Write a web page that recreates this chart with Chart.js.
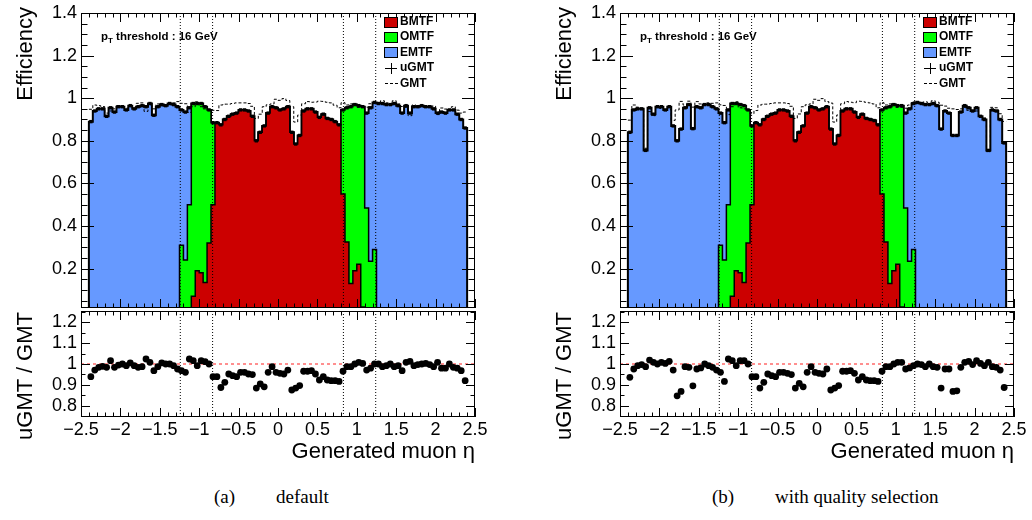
<!DOCTYPE html>
<html lang="en">
<head>
<meta charset="UTF-8">
<title>uGMT efficiency vs generated muon eta</title>
<script src="https://cdn.jsdelivr.net/npm/chart.js"></script>
<style>
  html, body { margin: 0; padding: 0; background: #fff; overflow: hidden; }
  #page { position: relative; width: 1032px; height: 520px; overflow: hidden; font-family: "Liberation Sans", Arial, sans-serif; color: #000; }
  canvas { position: absolute; }
  .ytitle { position: absolute; width: 200px; text-align: right; transform-origin: 0 0; transform: rotate(-90deg); font-size: 22px; line-height: 24px; white-space: nowrap; }
  .xtitle { position: absolute; width: 300px; text-align: right; font-size: 22px; line-height: 24px; white-space: nowrap; }
  .thr { position: absolute; font-weight: bold; font-size: 11.5px; line-height: 14px; white-space: nowrap; }
  .thr sub { font-size: 8px; }
  .leg { position: absolute; font-weight: bold; font-size: 12px; line-height: 15px; white-space: nowrap; }
  .box { position: absolute; width: 12px; height: 9px; border: 1px solid #000; }
  .bar { position: absolute; background: #000; }
  .dash { position: absolute; width: 13px; border-top: 1.5px dashed #000; }
  .cap { position: absolute; font-family: "Liberation Serif", "DejaVu Serif", serif; font-size: 19px; line-height: 22px; white-space: nowrap; }
</style>
</head>
<body>
<div id="page">
  <canvas id="upA" width="516" height="312" style="left:0;top:0"></canvas>
  <canvas id="loA" width="516" height="160" style="left:0;top:300px"></canvas>
  <canvas id="upB" width="516" height="312" style="left:539px;top:0"></canvas>
  <canvas id="loB" width="516" height="160" style="left:539px;top:300px"></canvas>

  <!-- panel (a) text -->
  <div class="ytitle" style="left:13px;top:207px">Efficiency</div>
  <div class="ytitle" style="left:13px;top:512px">uGMT / GMT</div>
  <div class="xtitle" style="left:175px;top:439px">Generated muon η</div>
  <div class="thr" style="left:101px;top:29px">p<sub>T</sub> threshold : 16 GeV</div>
  <div class="box" style="left:384px;top:17px;background:#cc0000"></div><div class="leg" style="left:400px;top:14px">BMTF</div>
  <div class="box" style="left:384px;top:32px;background:#00ff00"></div><div class="leg" style="left:400px;top:29px">OMTF</div>
  <div class="box" style="left:384px;top:47px;background:#6699ff"></div><div class="leg" style="left:400px;top:45px">EMTF</div>
  <div class="bar" style="left:385px;top:68px;width:12px;height:1px"></div><div class="bar" style="left:391px;top:63px;width:1px;height:11px"></div><div class="leg" style="left:400px;top:60px">uGMT</div>
  <div class="dash" style="left:385px;top:83px"></div><div class="leg" style="left:400px;top:76px">GMT</div>
  <div class="cap" style="left:214px;top:486px">(a)</div>
  <div class="cap" style="left:276px;top:486px">default</div>

  <!-- panel (b) text -->
  <div class="ytitle" style="left:552px;top:207px">Efficiency</div>
  <div class="ytitle" style="left:552px;top:512px">uGMT / GMT</div>
  <div class="xtitle" style="left:714px;top:439px">Generated muon η</div>
  <div class="thr" style="left:640px;top:29px">p<sub>T</sub> threshold : 16 GeV</div>
  <div class="box" style="left:923px;top:17px;background:#cc0000"></div><div class="leg" style="left:939px;top:14px">BMTF</div>
  <div class="box" style="left:923px;top:32px;background:#00ff00"></div><div class="leg" style="left:939px;top:29px">OMTF</div>
  <div class="box" style="left:923px;top:47px;background:#6699ff"></div><div class="leg" style="left:939px;top:45px">EMTF</div>
  <div class="bar" style="left:924px;top:68px;width:12px;height:1px"></div><div class="bar" style="left:930px;top:63px;width:1px;height:11px"></div><div class="leg" style="left:939px;top:60px">uGMT</div>
  <div class="dash" style="left:924px;top:83px"></div><div class="leg" style="left:939px;top:76px">GMT</div>
  <div class="cap" style="left:712px;top:486px">(b)</div>
  <div class="cap" style="left:775px;top:486px">with quality selection</div>
</div>

<script>
// bin edges in generated muon eta (width 0.05)
const etaEdges = [-2.4, -2.35, -2.3, -2.25, -2.2, -2.15, -2.1, -2.05, -2, -1.95, -1.9, -1.85, -1.8, -1.75, -1.7, -1.65,
  -1.6, -1.55, -1.5, -1.45, -1.4, -1.35, -1.3, -1.25, -1.2, -1.15, -1.1, -1.05, -1, -0.95, -0.9, -0.85, -0.8, -0.75,
  -0.7, -0.65, -0.6, -0.55, -0.5, -0.45, -0.4, -0.35, -0.3, -0.25, -0.2, -0.15, -0.1, -0.05, 0, 0.05, 0.1, 0.15, 0.2,
  0.25, 0.3, 0.35, 0.4, 0.45, 0.5, 0.55, 0.6, 0.65, 0.7, 0.75, 0.8, 0.85, 0.9, 0.95, 1, 1.05, 1.1, 1.15, 1.2, 1.25,
  1.3, 1.35, 1.4, 1.45, 1.5, 1.55, 1.6, 1.65, 1.7, 1.75, 1.8, 1.85, 1.9, 1.95, 2, 2.05, 2.1, 2.15, 2.2, 2.25, 2.3,
  2.35, 2.4];

// (a) default
const effA = [0.89, 0.94, 0.95, 0.95, 0.915, 0.955, 0.935, 0.96, 0.96, 0.945,
  0.965, 0.95, 0.96, 0.965, 0.96, 0.975, 0.92, 0.96, 0.97, 0.965,
  0.975, 0.97, 0.96, 0.945, 0.935, 0.955, 0.975, 0.975, 0.975, 0.96,
  0.945, 0.885, 0.885, 0.875, 0.90, 0.915, 0.925, 0.93, 0.945, 0.945,
  0.94, 0.915, 0.80, 0.84, 0.87, 0.93, 0.96, 0.955, 0.945, 0.95,
  0.96, 0.84, 0.785, 0.825, 0.94, 0.95, 0.95, 0.935, 0.91, 0.925,
  0.905, 0.90, 0.89, 0.875, 0.945, 0.955, 0.96, 0.97, 0.965, 0.96,
  0.93, 0.955, 0.98, 0.975, 0.975, 0.97, 0.97, 0.975, 0.965, 0.93,
  0.965, 0.93, 0.96, 0.96, 0.965, 0.96, 0.96, 0.95, 0.93, 0.935,
  0.93, 0.945, 0.945, 0.925, 0.90, 0.86];
const gmtA = [0.948, 0.968, 0.965, 0.961, 0.930, 0.940, 0.950, 0.965, 0.960, 0.953,
  0.960, 0.958, 0.976, 0.978, 0.938, 0.967, 0.950, 0.973, 0.965, 0.965,
  0.975, 0.978, 0.984, 0.976, 0.974, 0.933, 0.960, 0.983, 0.960, 0.950,
  0.945, 0.943, 0.942, 0.968, 0.972, 0.972, 0.975, 0.978, 0.978, 0.978,
  0.975, 0.962, 0.905, 0.925, 0.960, 0.969, 0.973, 0.995, 0.990, 0.998,
  0.989, 0.960, 0.888, 0.921, 0.974, 0.984, 0.981, 0.982, 0.986, 0.985,
  0.981, 0.978, 0.967, 0.955, 0.979, 0.968, 0.973, 0.970, 0.957, 0.957,
  0.958, 0.974, 0.980, 0.975, 0.988, 0.978, 0.970, 0.988, 0.973, 0.961,
  0.957, 0.918, 0.968, 0.963, 0.965, 0.957, 0.963, 0.963, 0.923, 0.954,
  0.949, 0.945, 0.960, 0.944, 0.930, 0.935];
const ratioA = [0.939, 0.971, 0.984, 0.989, 0.984, 1.016, 0.984, 0.995, 1.0, 0.992,
  1.005, 0.992, 0.984, 0.987, 1.024, 1.008, 0.968, 0.987, 1.005, 1.0,
  1.0, 0.992, 0.976, 0.968, 0.96, 1.024, 1.016, 0.992, 1.016, 1.011,
  1.0, 0.939, 0.939, 0.887, 0.912, 0.952, 0.944, 0.939, 0.96, 0.96,
  0.952, 0.949, 0.884, 0.904, 0.89, 0.96, 0.987, 0.96, 0.955, 0.952,
  0.971, 0.875, 0.884, 0.896, 0.965, 0.965, 0.968, 0.952, 0.923, 0.939,
  0.923, 0.92, 0.92, 0.916, 0.965, 0.987, 0.987, 1.0, 1.008, 1.003,
  0.971, 0.98, 1.0, 1.0, 0.987, 0.992, 1.0, 0.987, 0.992, 0.968,
  1.008, 1.013, 0.992, 0.997, 1.0, 1.003, 0.997, 0.987, 1.008, 0.98,
  0.98, 1.0, 0.984, 0.98, 0.968, 0.92];
// lower stacked part in the overlap bins (OMTF under EMTF, BMTF under OMTF), in eta order
const splitA = [0.31, 0.24, 0.50, 0.07, 0.19, 0.18, 0.135, 0.32, 0.50,
  0.55, 0.325, 0.13, 0.19, 0.22, 0.02, 0.485, 0.235, 0.29];

// (b) with quality selection
const effB = [0.84, 0.945, 0.95, 0.95, 0.755, 0.955, 0.925, 0.96, 0.96, 0.945,
  0.96, 0.87, 0.80, 0.855, 0.955, 0.97, 0.857, 0.96, 0.955, 0.97,
  0.97, 0.96, 0.95, 0.93, 0.885, 0.945, 0.975, 0.975, 0.97, 0.965,
  0.945, 0.87, 0.885, 0.875, 0.90, 0.915, 0.925, 0.93, 0.945, 0.945,
  0.94, 0.915, 0.80, 0.84, 0.87, 0.93, 0.96, 0.955, 0.945, 0.95,
  0.96, 0.855, 0.785, 0.825, 0.94, 0.95, 0.95, 0.935, 0.91, 0.925,
  0.905, 0.90, 0.895, 0.875, 0.945, 0.955, 0.96, 0.97, 0.965, 0.965,
  0.93, 0.95, 0.975, 0.98, 0.975, 0.97, 0.97, 0.975, 0.965, 0.855,
  0.94, 0.93, 0.825, 0.825, 0.935, 0.965, 0.955, 0.94, 0.955, 0.915,
  0.90, 0.755, 0.945, 0.94, 0.90, 0.79];
const gmtB = [0.897, 0.968, 0.958, 0.953, 0.765, 0.937, 0.918, 0.960, 0.952, 0.942,
  0.948, 0.896, 0.945, 0.985, 0.968, 0.986, 0.958, 0.984, 0.973, 0.970,
  0.978, 0.976, 0.978, 0.969, 0.966, 0.923, 0.960, 0.983, 0.955, 0.950,
  0.945, 0.927, 0.942, 0.968, 0.972, 0.972, 0.975, 0.978, 0.978, 0.978,
  0.975, 0.962, 0.905, 0.926, 0.960, 0.969, 0.973, 0.995, 0.990, 0.998,
  0.984, 0.977, 0.888, 0.921, 0.974, 0.984, 0.981, 0.979, 0.986, 0.985,
  0.981, 0.978, 0.973, 0.955, 0.979, 0.968, 0.973, 0.970, 0.957, 0.957,
  0.953, 0.968, 0.983, 0.980, 0.978, 0.983, 0.970, 0.988, 0.981, 0.967,
  0.963, 0.953, 0.950, 0.947, 0.950, 0.957, 0.943, 0.943, 0.940, 0.912,
  0.907, 0.749, 0.957, 0.955, 0.927, 0.891];
const ratioB = [0.936, 0.976, 0.992, 0.997, 0.987, 1.019, 1.008, 1.0, 1.008, 1.003,
  1.013, 0.971, 0.847, 0.868, 0.987, 0.984, 0.895, 0.976, 0.981, 1.0,
  0.992, 0.984, 0.971, 0.96, 0.916, 1.024, 1.016, 0.992, 1.016, 1.016,
  1.0, 0.939, 0.939, 0.884, 0.912, 0.952, 0.944, 0.939, 0.96, 0.96,
  0.955, 0.949, 0.884, 0.907, 0.89, 0.96, 0.987, 0.96, 0.955, 0.952,
  0.976, 0.875, 0.884, 0.896, 0.965, 0.965, 0.968, 0.955, 0.923, 0.939,
  0.923, 0.92, 0.92, 0.916, 0.965, 0.987, 0.987, 1.0, 1.008, 1.008,
  0.976, 0.981, 0.992, 1.0, 0.997, 0.987, 1.0, 0.987, 0.984, 0.884,
  0.976, 0.976, 0.868, 0.871, 0.984, 1.008, 1.013, 0.997, 1.016, 1.003,
  0.992, 1.008, 0.987, 0.984, 0.971, 0.887];
const splitB = [0.31, 0.24, 0.50, 0.07, 0.19, 0.18, 0.135, 0.32, 0.50,
  0.55, 0.325, 0.13, 0.19, 0.22, 0.02, 0.485, 0.235, 0.29];

// axes
const etaTicks = [-2.5, -2, -1.5, -1, -0.5, 0, 0.5, 1, 1.5, 2, 2.5];
const etaTickLabels = ['\u22122.5', '\u22122', '\u22121.5', '\u22121', '\u22120.5', '0', '0.5', '1', '1.5', '2', '2.5'];
const effTicks = [0.2, 0.4, 0.6, 0.8, 1, 1.2, 1.4];
const effTickLabels = ['0.2', '0.4', '0.6', '0.8', '1', '1.2', '1.4'];
const ratioTicks = [0.8, 0.9, 1, 1.1, 1.2];
const ratioTickLabels = ['0.8', '0.9', '1', '1.1', '1.2'];
const regionLines = [-1.24, -0.83, 0.83, 1.24];   // detector overlap boundaries
const ratioRef = 1;

const EFF_MIN = 0.015, EFF_MAX = 1.4;
const RATIO_MIN = 0.745, RATIO_MAX = 1.255;
const colBMTF = '#cc0000', colOMTF = '#00ff00', colEMTF = '#6699ff';

Chart.defaults.font.family = '"Liberation Sans", Arial, sans-serif';
Chart.defaults.color = '#000';

const centers = etaEdges.slice(0, -1).map((e, i) => (e + etaEdges[i + 1]) / 2);

// split the total uGMT efficiency into the three track finders
function splitComponents(eff, split) {
  const bmtf = [], omtf = [], emtf = [];
  let k = 0;
  centers.forEach((c, i) => {
    const a = Math.abs(c), v = eff[i];
    if (a > 1.25) { bmtf.push(0); omtf.push(0); emtf.push(v); }
    else if (a > 1.1) { const lo = split[k++]; bmtf.push(0); omtf.push(lo); emtf.push(v - lo); }
    else if (a > 0.8) { const lo = split[k++]; bmtf.push(lo); omtf.push(v - lo); emtf.push(0); }
    else { bmtf.push(v); omtf.push(0); emtf.push(0); }
  });
  return { bmtf, omtf, emtf };
}

// histogram as step points on bin edges
function steps(vals, closed) {
  const n = vals.length, pts = [];
  if (closed) pts.push({ x: etaEdges[0], y: 0 });
  vals.forEach((v, i) => pts.push({ x: etaEdges[i], y: v }));
  pts.push({ x: etaEdges[n], y: vals[n - 1] });
  if (closed) pts.push({ x: etaEdges[n], y: 0 });
  return pts;
}

function vline(b, lo, hi) {
  return { data: [{ x: b, y: lo }, { x: b, y: hi }], stack: 'line' + b, borderColor: '#000',
    borderWidth: 1, borderDash: [1, 2], pointRadius: 0, fill: false };
}

// ROOT-like frame with inward ticks on all sides
const rootFrame = {
  id: 'rootFrame',
  afterDraw(chart, args, o) {
    const { ctx, chartArea: a, scales: { x, y } } = chart;
    ctx.save();
    ctx.strokeStyle = '#000';
    ctx.lineWidth = 1;
    ctx.strokeRect(a.left + 0.5, a.top + 0.5, a.right - a.left - 1, a.bottom - a.top - 1);
    ctx.beginPath();
    for (let k = 0; k <= 50; k++) {
      const px = Math.round(x.getPixelForValue(-2.5 + k * 0.1)) + 0.5;
      const len = k % 5 === 0 ? o.xMajor : o.xMinor;
      ctx.moveTo(px, a.bottom); ctx.lineTo(px, a.bottom - len);
      ctx.moveTo(px, a.top); ctx.lineTo(px, a.top + len);
    }
    for (let k = 0; k < o.yN; k++) {
      const py = Math.round(y.getPixelForValue(o.y0 + k * 0.05)) + 0.5;
      const len = k % o.yMod === o.yRem ? o.yMajor : o.yMinor;
      ctx.moveTo(a.left, py); ctx.lineTo(a.left + len, py);
      ctx.moveTo(a.right, py); ctx.lineTo(a.right - len, py);
    }
    ctx.stroke();
    ctx.restore();
  }
};

function fixWidth(s) { s.width = 81; s.paddingTop = 0; s.paddingBottom = 0; }

function hiddenX() {
  return { type: 'linear', min: -2.5, max: 2.5, ticks: { display: false },
    grid: { display: false, drawTicks: false }, border: { display: false },
    afterFit: s => { s.height = 0; s.paddingLeft = 0; s.paddingRight = 0; } };
}

function upperChart(id, eff, gmt, split) {
  const parts = splitComponents(eff, split);
  new Chart(document.getElementById(id), {
    type: 'line',
    data: {
      datasets: [
        { label: 'uGMT', data: centers.map((c, i) => ({ x: c, y: eff[i] })), stack: 'ugmt', showLine: false,
          pointStyle: 'rect', pointRadius: 2.4, pointBackgroundColor: '#000', pointBorderWidth: 0 },
        { label: 'GMT', data: steps(gmt, false), stack: 'gmt', stepped: true, borderColor: '#000',
          borderWidth: 1, borderDash: [3, 2], pointRadius: 0, fill: false },
        ...regionLines.map(b => vline(b, EFF_MIN, EFF_MAX)),
        { label: 'BMTF', data: steps(parts.bmtf, true), stack: 'tf', stepped: true, fill: 'origin',
          backgroundColor: colBMTF, borderColor: '#000', borderWidth: 1.5, pointRadius: 0 },
        { label: 'OMTF', data: steps(parts.omtf, true), stack: 'tf', stepped: true, fill: '-1',
          backgroundColor: colOMTF, borderColor: '#000', borderWidth: 1.5, pointRadius: 0 },
        { label: 'EMTF', data: steps(parts.emtf, true), stack: 'tf', stepped: true, fill: '-1',
          backgroundColor: colEMTF, borderColor: '#000', borderWidth: 2, pointRadius: 0 }
      ]
    },
    options: {
      responsive: false, animation: false, devicePixelRatio: 1,
      layout: { padding: { top: 13, right: 41, bottom: 2, left: 0 } },
      plugins: { legend: { display: false }, tooltip: { enabled: false },
        rootFrame: { xMajor: 9, xMinor: 4.5, y0: 0.05, yN: 28, yMod: 4, yRem: 3, yMajor: 13, yMinor: 6.5 } },
      scales: {
        x: hiddenX(),
        y: { type: 'linear', stacked: true, min: EFF_MIN, max: EFF_MAX,
          afterBuildTicks: s => { s.ticks = effTicks.map(v => ({ value: v })); },
          ticks: { autoSkip: false, padding: 4, font: { size: 18 }, callback: (v, i) => effTickLabels[i] },
          grid: { display: false, drawTicks: false }, border: { display: false },
          afterFit: fixWidth }
      }
    },
    plugins: [rootFrame]
  });
}

function ratioChart(id, ratio) {
  new Chart(document.getElementById(id), {
    type: 'line',
    data: {
      datasets: [
        { label: 'uGMT / GMT', data: centers.map((c, i) => ({ x: c, y: ratio[i] })), showLine: false,
          pointStyle: 'circle', pointRadius: 3.4, pointBackgroundColor: '#000', pointBorderWidth: 0 },
        { data: [{ x: -2.5, y: ratioRef }, { x: 2.5, y: ratioRef }], borderColor: '#ff2020', borderWidth: 1,
          borderDash: [3, 3], pointRadius: 0, fill: false },
        ...regionLines.map(b => vline(b, RATIO_MIN, RATIO_MAX))
      ]
    },
    options: {
      responsive: false, animation: false, devicePixelRatio: 1,
      layout: { padding: { top: 11, right: 41, bottom: 13, left: 0 } },
      plugins: { legend: { display: false }, tooltip: { enabled: false },
        rootFrame: { xMajor: 9, xMinor: 4.5, y0: 0.75, yN: 11, yMod: 2, yRem: 1, yMajor: 9, yMinor: 4.5 } },
      scales: {
        x: { type: 'linear', min: -2.5, max: 2.5,
          afterBuildTicks: s => { s.ticks = etaTicks.map(v => ({ value: v })); },
          ticks: { autoSkip: false, maxRotation: 0, padding: 2, font: { size: 18 }, callback: (v, i) => etaTickLabels[i] },
          grid: { display: false, drawTicks: false }, border: { display: false },
          afterFit: s => { s.height = 30; } },
        y: { type: 'linear', min: RATIO_MIN, max: RATIO_MAX,
          afterBuildTicks: s => { s.ticks = ratioTicks.map(v => ({ value: v })); },
          ticks: { autoSkip: false, padding: 4, font: { size: 18 }, callback: (v, i) => ratioTickLabels[i] },
          grid: { display: false, drawTicks: false }, border: { display: false },
          afterFit: fixWidth }
      }
    },
    plugins: [rootFrame]
  });
}

upperChart('upA', effA, gmtA, splitA);
ratioChart('loA', ratioA);
upperChart('upB', effB, gmtB, splitB);
ratioChart('loB', ratioB);
</script>
</body>
</html>
